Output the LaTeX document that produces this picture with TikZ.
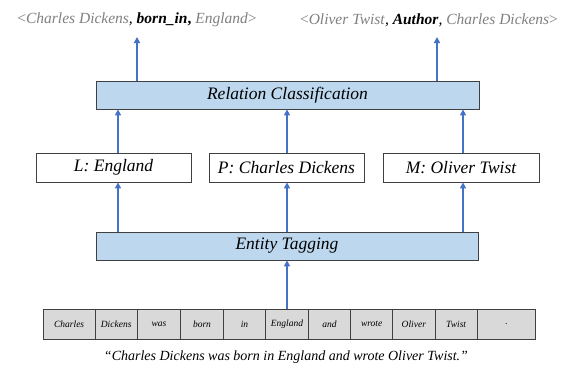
\documentclass[tikz,border=0pt]{standalone}
\usepackage{fontspec}
\setmainfont{Liberation Serif}
\newfontfamily\tms{Liberation Serif}
\usetikzlibrary{arrows.meta}
\definecolor{boxblue}{HTML}{BDD7EE}
\definecolor{arrblue}{HTML}{4472C4}
\definecolor{entgrey}{HTML}{808080}
\definecolor{cellgrey}{HTML}{D9D9D9}
\definecolor{edgegrey}{HTML}{404040}
\begin{document}
\begin{tikzpicture}[x=1pt,y=-1pt,
  bigbox/.style={draw=edgegrey, fill=boxblue, line width=0.8pt, minimum height=28pt, inner sep=0pt, font=\tms\fontsize{17.5}{20}\selectfont\itshape},
  midbox/.style={draw=edgegrey, fill=white, line width=0.8pt, minimum height=29pt, inner sep=0pt, font=\tms\fontsize{17.5}{20}\selectfont\itshape},
  cell/.style={draw=edgegrey, fill=cellgrey, line width=0.6pt, minimum height=30pt, inner sep=0pt, font=\tms\fontsize{9.5}{11}\selectfont\itshape},
  toptext/.style={inner sep=0pt, font=\tms\fontsize{15.5}{18}\selectfont},
  arr/.style={draw=arrblue, line width=1.8pt, -{Triangle[length=6pt,width=6pt]}}
]
\useasboundingbox[fill=white] (0,0) rectangle (564,376);

% top texts
\node[toptext] (t1) at (137,20) {\textcolor{entgrey}{<\textit{Charles Dickens}}\textit{,} \textbf{\textit{born\_in},} \textcolor{entgrey}{\textit{England}>}};
\node[toptext] (t2) at (429,20) {\textcolor{entgrey}{<\textit{Oliver Twist}}\textit{,} \textbf{\textit{Author}}\textit{,} \textcolor{entgrey}{\textit{Charles Dickens}>}};
\coordinate (o1) at (137,37);
\coordinate (o2) at (437,37);

% boxes
\node[bigbox, minimum width=383pt] (rc) at (287.5,95) {Relation Classification};
\node[midbox, minimum width=155pt] (L) at (113.5,167.5) {L: England};
\node[midbox, minimum width=155pt] (P) at (286.5,167.5) {P: Charles Dickens};
\node[midbox, minimum width=156pt] (M) at (461,167.5) {M: Oliver Twist};
\node[bigbox, minimum width=382pt] (et) at (287,246) {Entity Tagging};

% token cells
\foreach \a/\b/\w [count=\i] in {43.3/95/Charles, 95/137.3/Dickens, 137.3/180.7/was, 180.7/223.3/born, 223.3/265.7/in, 265.7/308.3/England, 308.3/350.7/and, 350.7/392.7/wrote, 392.7/435/Oliver, 435/477.3/Twist, 477.3/535.7/.}
  \node[cell, minimum width={(\b-\a)*1pt}] (c\i) at ({(\a+\b)/2},324) {\w};

% caption
\node[inner sep=0pt, font=\tms\fontsize{14}{16}\selectfont\itshape] (cap) at (286,357) {“Charles Dickens was born in England and wrote Oliver Twist.”};

% arrows
\draw[arr] (c6.north) -- (et.south -| c6.north);
\draw[arr] ([xshift=4.5pt]L.south |- et.north) -- ([xshift=4.5pt]L.south);
\draw[arr] ([xshift=0.5pt]P.south |- et.north) -- ([xshift=0.5pt]P.south);
\draw[arr] ([xshift=2pt]M.south |- et.north) -- ([xshift=2pt]M.south);
\draw[arr] ([xshift=4.5pt]L.north) -- ([xshift=4.5pt]L.north |- rc.south);
\draw[arr] ([xshift=0.5pt]P.north) -- ([xshift=0.5pt]P.north |- rc.south);
\draw[arr] ([xshift=2pt]M.north) -- ([xshift=2pt]M.north |- rc.south);
\draw[arr] (rc.north -| o1) -- (o1);
\draw[arr] (rc.north -| o2) -- (o2);
\end{tikzpicture}
\end{document}
